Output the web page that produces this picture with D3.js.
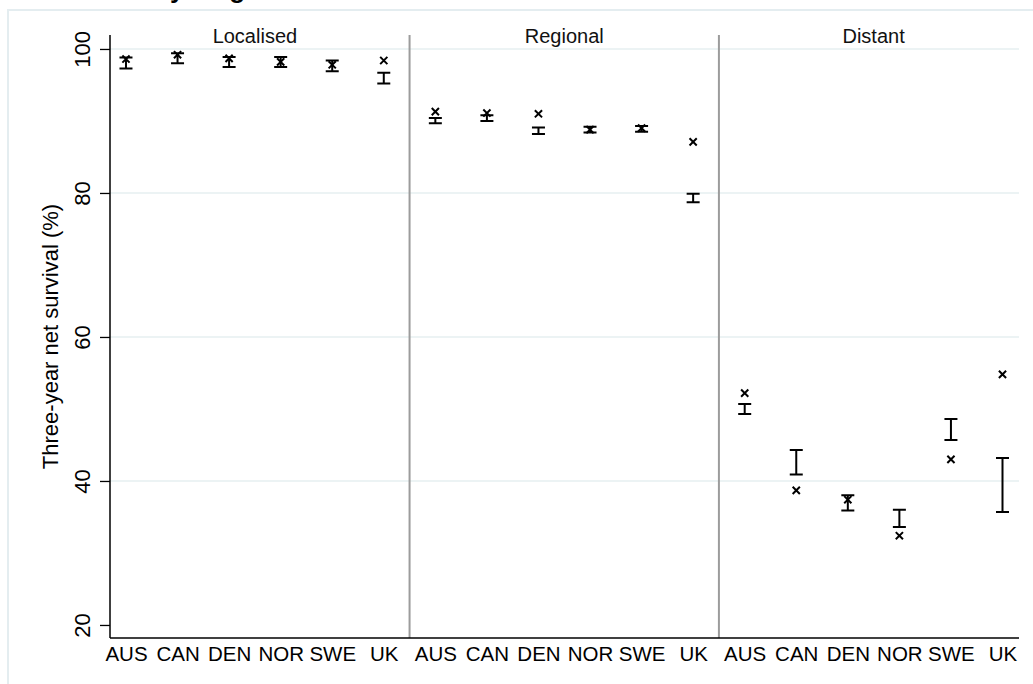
<!DOCTYPE html>
<html>
<head>
<meta charset="utf-8">
<script src="https://cdn.jsdelivr.net/npm/d3@7"></script>
<style>
	body { margin: 0; background: #fff; }
	svg { display: block; font-family: "Liberation Sans", Arial, sans-serif; }
</style>
</head>
<body>
<svg id="chart" width="1033" height="684"></svg>
<script>
'use strict';

var countries = ['AUS', 'CAN', 'DEN', 'NOR', 'SWE', 'UK'];
var stages = ['Localised', 'Regional', 'Distant'];
var yTicks = [20, 40, 60, 80, 100];
var yGrid = [40, 60, 80, 100];

// point estimates (x markers), one array per stage
var estLocalised = [98.6, 99.2, 98.7, 98.2, 97.8, 98.4];
var estRegional = [91.3, 91.1, 91.0, 88.8, 89.0, 87.1];
var estDistant = [52.2, 38.7, 37.4, 32.4, 43.0, 54.8];

// confidence intervals (capped bars)
var loLocalised = [97.3, 98.0, 97.5, 97.5, 96.9, 95.2];
var hiLocalised = [98.8, 99.4, 98.9, 98.9, 98.4, 96.7];
var loRegional = [89.7, 90.0, 88.2, 88.4, 88.5, 78.7];
var hiRegional = [90.4, 90.8, 89.1, 89.2, 89.3, 79.9];
var loDistant = [49.3, 40.9, 35.9, 33.6, 45.7, 35.7];
var hiDistant = [50.7, 44.3, 38.0, 36.0, 48.6, 43.2];

var est = [estLocalised, estRegional, estDistant];
var lo = [loLocalised, loRegional, loDistant];
var hi = [hiLocalised, hiRegional, hiDistant];

/**
 * Flatten the stage arrays into one row per plotted position.
 * @returns {Array<Object>}
 */
function buildRows() {
	var rows = [];
	stages.forEach(function(s, si) {
		countries.forEach(function(c, ci) {
			rows.push({
				pos: si * countries.length + ci + 1,
				country: c,
				stage: s,
				est: est[si][ci],
				lo: lo[si][ci],
				hi: hi[si][ci]
			});
		});
	});
	return rows;
}

var rows = buildRows();
var n = countries.length;

var plot = { left: 110, right: 1019, top: 35, bottom: 638 };

var x = d3.scaleLinear()
	.domain([0.69, rows.length + 0.32])
	.range([plot.left, plot.right]);

var y = d3.scaleLinear()
	.domain([18.19, 101.94])
	.range([plot.bottom, plot.top]);

var svg = d3.select('#chart');

// outer graph region frame (runs off the right and bottom edge)
svg.append('rect')
	.attr('x', 8)
	.attr('y', 10)
	.attr('width', 1200)
	.attr('height', 900)
	.attr('fill', 'none')
	.attr('stroke', '#e4edf0')
	.attr('stroke-width', 2);

// title, cut off at the top of the picture as in the original
var title = svg.append('text')
	.attr('y', -2)
	.attr('font-size', 26)
	.attr('font-weight', 'bold')
	.attr('fill', '#000')
	.text('Three-year net survival by stage');
var pre = title.node().getSubStringLength(0, 'Three-year net survival b'.length);
title.attr('x', 170 - pre);

// gridlines
svg.append('g')
	.selectAll('line')
	.data(yGrid)
	.enter()
	.append('line')
	.attr('x1', plot.left)
	.attr('x2', plot.right)
	.attr('y1', function(d) { return y(d); })
	.attr('y2', function(d) { return y(d); })
	.attr('stroke', '#e6eff1')
	.attr('stroke-width', 1.5);

// panel separators
svg.append('g')
	.selectAll('line')
	.data(d3.range(1, stages.length))
	.enter()
	.append('line')
	.attr('x1', function(d) { return x(d * n + 0.5); })
	.attr('x2', function(d) { return x(d * n + 0.5); })
	.attr('y1', plot.top)
	.attr('y2', plot.bottom)
	.attr('stroke', '#9c9c9c')
	.attr('stroke-width', 2);

// panel titles
svg.append('g')
	.selectAll('text')
	.data(stages)
	.enter()
	.append('text')
	.attr('x', function(d, i) { return (x(i * n + 0.5) + x((i + 1) * n + 0.5)) / 2; })
	.attr('y', 43)
	.attr('text-anchor', 'middle')
	.attr('font-size', 20)
	.attr('fill', '#111')
	.text(function(d) { return d; });

// y axis
var yAxis = d3.axisLeft(y)
	.tickValues(yTicks)
	.tickSize(10)
	.tickFormat(d3.format('d'));

var gy = svg.append('g')
	.attr('transform', 'translate(' + plot.left + ',0)')
	.call(yAxis);
gy.select('.domain')
	.attr('d', 'M0,' + plot.top + 'V' + plot.bottom)
	.attr('stroke', '#000')
	.attr('stroke-width', 1.5);
gy.selectAll('.tick line')
	.attr('stroke', '#000')
	.attr('stroke-width', 1.3);
gy.selectAll('.tick text')
	.attr('x', null)
	.attr('dy', null)
	.attr('transform', 'translate(-20,0) rotate(-90)')
	.attr('text-anchor', 'middle')
	.attr('font-size', 22)
	.attr('font-family', '"Liberation Sans", Arial, sans-serif')
	.attr('fill', '#000');

svg.append('text')
	.attr('transform', 'translate(58,' + ((plot.top + plot.bottom) / 2) + ') rotate(-90)')
	.attr('text-anchor', 'middle')
	.attr('font-size', 22)
	.attr('fill', '#000')
	.text('Three-year net survival (%)');

// x axis
var xAxis = d3.axisBottom(x)
	.tickValues(rows.map(function(d) { return d.pos; }))
	.tickSize(0)
	.tickPadding(8)
	.tickFormat(function(d) { return rows[d - 1].country; });

var gx = svg.append('g')
	.attr('transform', 'translate(0,' + plot.bottom + ')')
	.call(xAxis);
gx.select('.domain')
	.attr('d', 'M' + plot.left + ',0H' + plot.right)
	.attr('stroke', '#000')
	.attr('stroke-width', 1.5);
gx.selectAll('.tick text')
	.attr('font-size', 20.5)
	.attr('font-family', '"Liberation Sans", Arial, sans-serif')
	.attr('fill', '#000');

// confidence interval bars
var cap = 6.5;
svg.append('g')
	.attr('stroke', '#000')
	.attr('stroke-width', 2)
	.attr('fill', 'none')
	.selectAll('path')
	.data(rows)
	.enter()
	.append('path')
	.attr('d', function(d) {
		var cx = x(d.pos), y0 = y(d.lo), y1 = y(d.hi);
		return 'M' + (cx - cap) + ',' + y1 + 'H' + (cx + cap) +
			'M' + cx + ',' + y1 + 'V' + y0 +
			'M' + (cx - cap) + ',' + y0 + 'H' + (cx + cap);
	});

// point estimate markers
var m = 3.6;
svg.append('g')
	.attr('stroke', '#000')
	.attr('stroke-width', 2)
	.selectAll('path')
	.data(rows)
	.enter()
	.append('path')
	.attr('d', function(d) {
		var cx = x(d.pos), cy = y(d.est);
		return 'M' + (cx - m) + ',' + (cy - m) + 'L' + (cx + m) + ',' + (cy + m) +
			'M' + (cx - m) + ',' + (cy + m) + 'L' + (cx + m) + ',' + (cy - m);
	});
</script>
</body>
</html>
